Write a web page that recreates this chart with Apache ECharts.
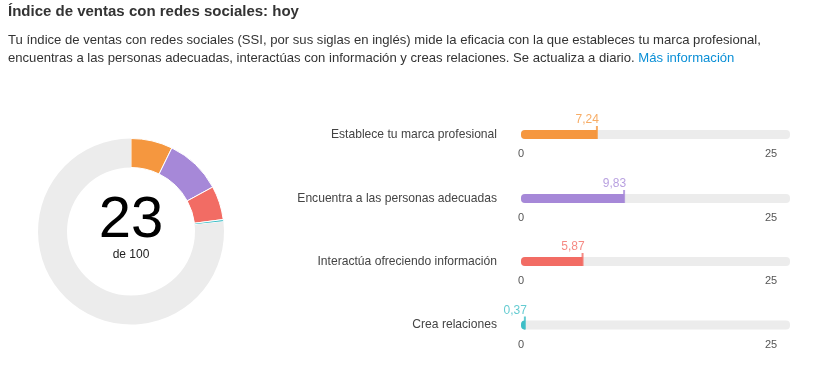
<!DOCTYPE html>
<html><head><meta charset="utf-8">
<script src="https://cdn.jsdelivr.net/npm/echarts@6/dist/echarts.min.js"></script>
<style>html,body{margin:0;padding:0;background:#fff}#c{width:836px;height:386px}</style>
</head><body><div id="c"></div>
<script>
const headline = 'Índice de ventas con redes sociales: hoy';
const descLine1 = 'Tu índice de ventas con redes sociales (SSI, por sus siglas en inglés) mide la eficacia con la que estableces tu marca profesional,';
const descLine2 = 'encuentras a las personas adecuadas, interactúas con información y creas relaciones. Se actualiza a diario. ';
const linkText = 'Más información';
const categories = ['Establece tu marca profesional', 'Encuentra a las personas adecuadas', 'Interactúa ofreciendo información', 'Crea relaciones'];
const values = [7.24, 9.83, 5.87, 0.37];
const colors = ['#f5973f', '#a688d8', '#f26c64', '#3dbec6'];
const scoreMax = 100;
const scoreLabel = 'de 100';
const axisTickValues = [0, 25];
const trackMax = 25.65;

const FONT = 'Arial, "Liberation Sans", sans-serif';
const fmt = v => v.toFixed(2).replace('.', ',');
const total = values.reduce((a, b) => a + b, 0);
const barCenters = [134.5, 198.5, 261.5, 325];

const grids = [], xAxes = [], yAxes = [], series = [];
categories.forEach((cat, i) => {
  grids.push({ left: 521, width: 269, top: barCenters[i] - 10, height: 20 });
  xAxes.push({
    gridIndex: i, type: 'value', min: 0, max: trackMax,
    axisLine: { show: false }, axisTick: { show: false }, splitLine: { show: false },
    axisLabel: {
      customValues: axisTickValues, color: '#555', fontSize: 11, fontFamily: FONT, margin: 4,
      alignMaxLabel: 'right',
      formatter: v => v === axisTickValues[axisTickValues.length - 1] ? '{r|' + v + '}' : String(v),
      rich: { r: { padding: [0, 6, 0, 0], color: '#555', fontSize: 11, fontFamily: FONT } }
    }
  });
  yAxes.push({
    gridIndex: i, type: 'category', data: [cat],
    axisLine: { show: false }, axisTick: { show: false },
    axisLabel: { color: '#444', fontSize: 12.1, fontFamily: FONT, margin: 24 }
  });
  series.push({
    type: 'bar', xAxisIndex: i, yAxisIndex: i, data: [trackMax], barWidth: 9, barGap: '-100%',
    itemStyle: { color: '#ececec', borderRadius: 4 }, silent: true, z: 1
  });
  series.push({
    type: 'bar', xAxisIndex: i, yAxisIndex: i, data: [values[i]], barWidth: 9,
    itemStyle: { color: colors[i], borderRadius: [4, 0, 0, 4] }, silent: true, z: 2
  });
  series.push({
    type: 'scatter', xAxisIndex: i, yAxisIndex: i, data: [[values[i], cat]],
    symbol: 'rect', symbolSize: [2, 13], symbolOffset: [0, -2],
    itemStyle: { color: colors[i] }, silent: true, z: 3,
    label: { show: true, position: ['100%', 0], align: 'right', verticalAlign: 'bottom', offset: [1, 0],
      formatter: p => fmt(p.value[0]), color: colors[i], fontSize: 12, fontFamily: FONT }
  });
});

const pieData = values.map((v, i) => ({ value: v, itemStyle: { color: colors[i] } }));
pieData.push({ value: scoreMax - total, itemStyle: { color: '#ececec', borderWidth: 0 } });
series.push({
  type: 'pie', radius: [64, 93], center: [131, 231.5], startAngle: 90, clockwise: true,
  label: { show: false }, labelLine: { show: false }, silent: true,
  itemStyle: { borderColor: '#fff', borderWidth: 1 }, data: pieData
});

const chart = echarts.init(document.getElementById('c'));
chart.setOption({
  animation: false,
  title: [
    { text: headline, left: 8, top: 4, padding: 0, textStyle: { fontSize: 15, fontWeight: 'bold', color: '#333', fontFamily: FONT } },
    { text: descLine1 + '\n' + descLine2 + '{link|' + linkText + '}', left: 8, top: 31, padding: 0,
      textStyle: { fontSize: 13.1, lineHeight: 18, color: '#333', fontWeight: 'normal', fontFamily: FONT,
        rich: { link: { color: '#0a8fd6', fontSize: 13.1, lineHeight: 18, fontFamily: FONT } } } }
  ],
  graphic: [
    { type: 'text', x: 131, y: 221, style: { text: String(Math.round(total)), fill: '#000', font: '58px ' + FONT, textAlign: 'center', textVerticalAlign: 'middle' } },
    { type: 'text', x: 131, y: 254.5, style: { text: scoreLabel, fill: '#222', font: '12px ' + FONT, textAlign: 'center', textVerticalAlign: 'middle' } }
  ],
  grid: grids, xAxis: xAxes, yAxis: yAxes, series: series
});
</script></body></html>
